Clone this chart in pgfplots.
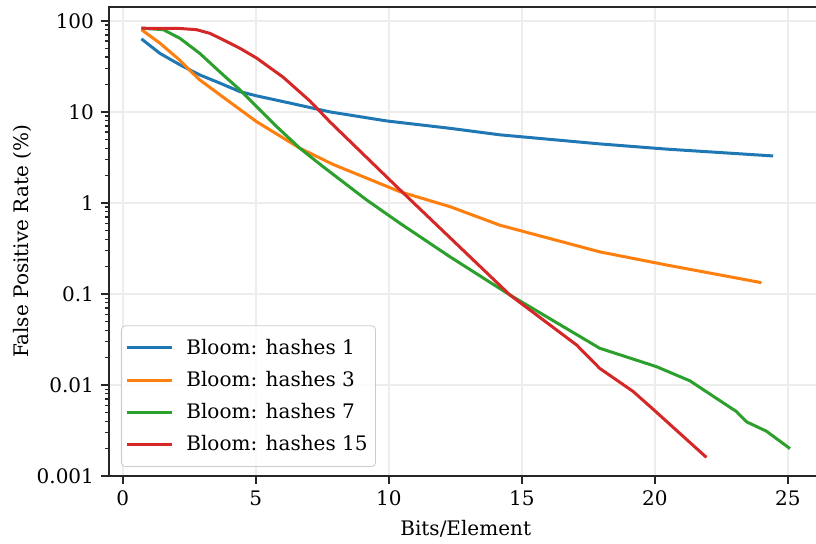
\documentclass[border=0pt]{standalone}
\usepackage{fontspec}
\setmainfont{DejaVu Serif}
\usepackage{pgfplots}
\pgfplotsset{compat=1.18}

\definecolor{c1}{HTML}{1F77B4}
\definecolor{c2}{HTML}{FF7F0E}
\definecolor{c3}{HTML}{2CA02C}
\definecolor{c4}{HTML}{D62728}

\begin{document}
\begin{tikzpicture}
\useasboundingbox (0,0) rectangle (408pt,272pt);
\begin{axis}[
  at={(54.5pt,34pt)}, anchor=south west,
  scale only axis,
  width=356.7pt, height=234.5pt,
  xmin=-0.52, xmax=26.3,
  ymode=log, ymin=0.001, ymax=142,
  xtick={0,5,10,15,20,25},
  xticklabels={0,5,10,15,20,25},
  ytick={0.001,0.01,0.1,1,10,100},
  yticklabels={0.001,0.01,0.1,1,10,100},
  minor ytick={0.002,0.003,0.004,0.005,0.006,0.007,0.008,0.009,
               0.02,0.03,0.04,0.05,0.06,0.07,0.08,0.09,
               0.2,0.3,0.4,0.5,0.6,0.7,0.8,0.9,
               2,3,4,5,6,7,8,9,20,30,40,50,60,70,80,90},
  tick pos=left,
  tick align=outside,
  major tick length=4pt,
  minor tick length=2pt,
  every tick/.style={black!85, line width=0.8pt},
  minor tick style={black!85, line width=0.6pt},
  grid=major,
  major grid style={color=black!7, line width=0.8pt},
  axis line style={black!85, line width=0.9pt},
  xlabel={Bits/Element},
  ylabel={False Positive Rate (\%)},
  xlabel style={at={(axis description cs:0.5,-0.113)}, anchor=center},
  ylabel style={at={(axis description cs:-0.122,0.5)}, anchor=center},
  legend style={at={(axis description cs:0.0168,0.0192)}, anchor=south west,
    draw=black!20, rounded corners=2pt, fill=white, fill opacity=0.8,
    text opacity=1, inner xsep=2pt, inner ysep=4.5pt, row sep=3pt,
    column sep=4.5pt},
  legend cell align=left,
  legend image code/.code={\draw[line width=1.5pt] (0pt,0pt) -- (22.5pt,0pt);},
  every axis plot/.append style={line width=1.5pt, line join=round, no markers},
]
\addplot[c1] coordinates {
  (0.7,63.4) (1.39,44) (2.14,33) (2.89,25.5) (3.65,20.7) (4.4,16.7) (5.03,15)
  (6.28,12.5) (7.78,10) (9.91,7.96) (12.3,6.6) (14.17,5.6) (17.93,4.45)
  (20.44,3.9) (24.45,3.28)
};
\addlegendentry{Bloom: hashes 1}
\addplot[c2] coordinates {
  (0.7,80) (1.39,57) (2.14,37) (2.52,28.5) (2.89,22.5) (3.65,15.4) (5.03,7.8)
  (6.65,4.0) (7.9,2.65) (10.41,1.33) (12.3,0.91) (14.17,0.57) (17.93,0.29)
  (20.44,0.208) (24.01,0.133)
};
\addlegendentry{Bloom: hashes 3}
\addplot[c3] coordinates {
  (0.7,83) (1.52,80) (2.14,64.5) (2.89,44) (3.77,25.5) (4.4,17.5) (5.03,11.4)
  (5.78,6.9) (6.65,4.0) (7.53,2.5) (9.16,1.08) (10.41,0.6) (12.29,0.257)
  (14.55,0.0975) (17.93,0.0253) (20.06,0.0159) (21.32,0.0111) (23.07,0.0051)
  (23.44,0.00395) (24.2,0.0031) (25.08,0.002)
};
\addlegendentry{Bloom: hashes 7}
\addplot[c4] coordinates {
  (0.7,83) (2.14,82.5) (2.77,80) (3.27,73) (3.65,64.5) (4.4,50) (5.03,39)
  (6.03,24) (7.03,13.2) (7.78,7.8) (10.41,1.4) (14.55,0.0975) (17.06,0.0275)
  (17.93,0.0152) (19.18,0.0085) (19.94,0.0054) (21.94,0.0016)
};
\addlegendentry{Bloom: hashes 15}
\end{axis}
\end{tikzpicture}
\end{document}
